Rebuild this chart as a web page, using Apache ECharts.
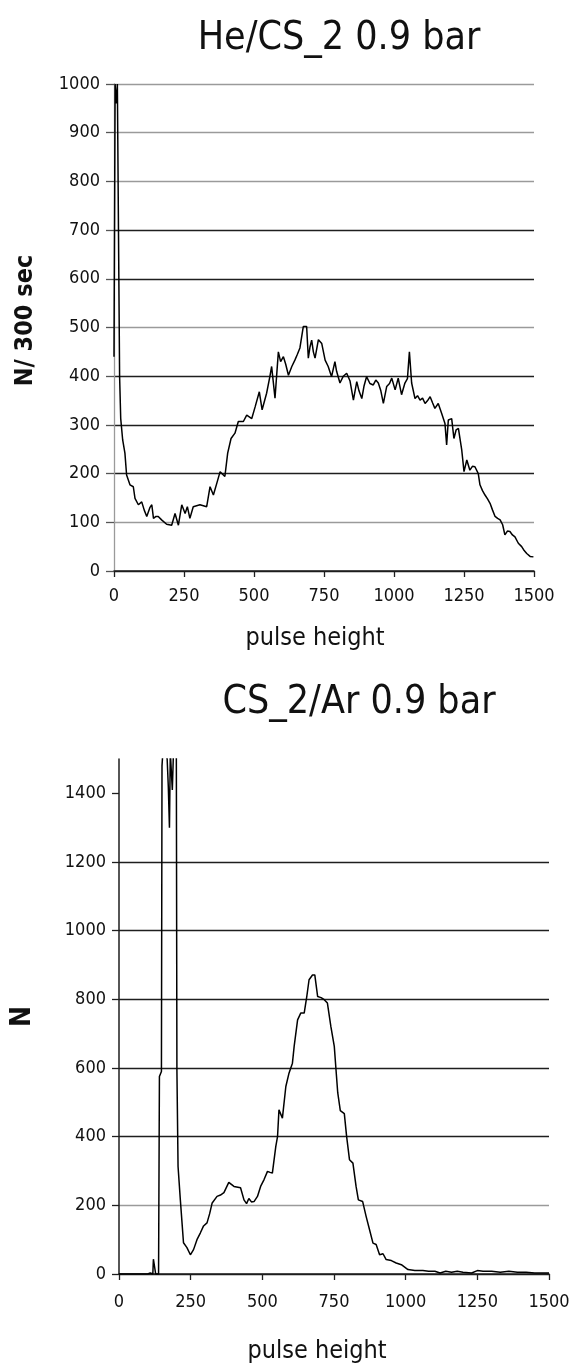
<!DOCTYPE html>
<html><head><meta charset="utf-8">
<script src="https://cdn.jsdelivr.net/npm/echarts@6/dist/echarts.min.js"></script>
<style>html,body{margin:0;padding:0;background:#fff}#c{width:575px;height:1366px}</style>
</head><body><div id="c"></div>
<script>
const FONT = "'Liberation Sans Narrow','DejaVu Sans Condensed','Liberation Sans',Arial,sans-serif";

const titleTop = 'He/CS_2 0.9 bar';
const titleBottom = 'CS_2/Ar 0.9 bar';
const xName = 'pulse height';
const yNameTop = 'N/ 300 sec';
const yNameBottom = 'N';
const yTicksBottom = [0, 200, 400, 600, 800, 1000, 1200, 1400];

// He/CS_2 spectrum (pulse height, counts per 300 s)
const heX = [0,4,8,12,16,20,24,31,39,45,57,69,75,87,99,108,117,128,135,141,150,158,170,188,206,218,230,242,254,262,271,283,307,331,343,355,367,379,396,406,418,432,444,462,474,492,504,519,529,545,557,563,575,587,595,605,613,623,635,646,655,664,676,688,694,700,706,712,718,730,742,754,765,777,789,795,807,819,831,843,855,867,875,885,893,902,914,926,935,944,953,962,974,984,992,1004,1015,1027,1039,1048,1055,1063,1075,1084,1093,1102,1111,1120,1129,1138,1146,1158,1170,1182,1188,1194,1206,1214,1222,1230,1242,1250,1260,1271,1280,1289,1301,1307,1316,1325,1334,1343,1352,1361,1370,1379,1388,1396,1405,1414,1423,1432,1438,1444,1450,1456,1465,1474,1486,1498];
const heY = [440,1000,960,1000,1000,400,313,269,242,197,177,173,149,136,142,125,112,130,136,108,112,112,105,96,94,118,94,136,118,132,108,132,136,132,173,156,180,204,194,242,272,283,307,307,320,313,337,368,331,365,400,420,355,450,430,440,425,402,420,433,445,458,502,502,437,460,474,450,437,475,467,433,420,399,430,410,386,400,406,390,351,389,370,354,380,399,385,382,392,386,370,344,379,385,396,372,396,362,386,395,450,386,354,360,351,355,344,350,358,345,334,344,324,303,259,310,313,272,290,293,248,204,228,207,215,214,200,177,165,156,148,139,125,112,108,105,95,74,82,81,74,70,66,57,55,50,42,36,30,29];

// CS_2/Ar spectrum (pulse height, counts)
const arX = [0,100,109,118,120,125,128,138,141,148,150,153,158,163,168,172,176,179,184,186,190,196,200,202,206,214,225,237,249,260,272,284,295,307,316,325,342,354,366,383,401,424,436,445,453,462,471,483,494,506,518,527,535,547,553,558,570,582,593,605,611,623,634,646,655,663,675,683,693,705,716,727,739,751,757,763,772,786,794,804,816,827,835,850,862,874,886,897,909,921,932,950,967,985,1008,1032,1060,1080,1102,1120,1140,1160,1180,1200,1230,1250,1270,1300,1330,1360,1390,1420,1450,1480,1500];
const arY = [0,0,3,0,43,43,0,0,575,590,1480,1520,1520,1520,1500,1420,1300,1520,1520,1410,1520,1520,1520,595,313,216,91,77,56,71,100,120,140,149,175,207,226,230,237,267,255,251,216,205,220,210,211,226,255,275,299,296,294,372,400,478,454,546,585,614,663,740,760,760,808,857,871,871,808,805,799,789,721,663,595,528,476,467,401,333,323,255,216,211,168,129,90,86,56,59,42,39,32,27,13,10,10,8,8,3,8,5,8,5,3,10,8,8,5,8,5,5,3,3,3];

const zip = (xs, ys) => xs.map((x, i) => [x, ys[i]]);

const DARK = '#1e1e1e', GRAY = '#9a9a9a';
const chart = echarts.init(document.getElementById('c'), null, {renderer: 'canvas'});

const plain = v => String(v);
const labelStyle = {fontFamily: FONT, fontSize: 18, color: '#111', formatter: plain};
function xAxis(gi, margin) {
  return {
    type: 'value', gridIndex: gi, min: 0, max: 1500, interval: 250,
    axisLine: {show: true, lineStyle: {color: DARK, width: 1.5}},
    axisTick: {show: true, length: 6, lineStyle: {color: DARK, width: 1.3}},
    axisLabel: Object.assign({margin: margin}, labelStyle),
    splitLine: {show: false},
    name: xName, nameLocation: 'middle', nameGap: gi === 0 ? 55 : 65,
    nameTextStyle: {fontFamily: FONT, fontSize: 25, color: '#111', padding: gi === 0 ? [0, 18, 0, 0] : [0, 34, 0, 0]}
  };
}

chart.setOption({
  animation: false,
  backgroundColor: '#fff',
  title: [
    {text: titleTop, left: 334, top: 14, textAlign: 'center',
     textStyle: {fontFamily: FONT, fontSize: 39, fontWeight: 'normal', color: '#111'}},
    {text: titleBottom, left: 354, top: 678, textAlign: 'center',
     textStyle: {fontFamily: FONT, fontSize: 39, fontWeight: 'normal', color: '#111'}}
  ],
  grid: [
    {left: 114, top: 84, width: 420, height: 487},
    {left: 119, top: 759, width: 430, height: 515}
  ],
  xAxis: [xAxis(0, 16), xAxis(1, 19)],
  yAxis: [
    {type: 'value', gridIndex: 0, min: 0, max: 1000, interval: 100,
     axisLine: {show: true, lineStyle: {color: GRAY, width: 1.3}},
     axisTick: {show: true, length: 8, lineStyle: {color: '#555', width: 1.3}},
     axisLabel: Object.assign({margin: 14}, labelStyle),
     splitLine: {show: true, lineStyle: {width: 1.4,
       color: [DARK, GRAY, DARK, DARK, DARK, GRAY, DARK, DARK, GRAY, GRAY, GRAY]}},
     name: yNameTop, nameLocation: 'middle', nameRotate: 90, nameGap: 76,
     nameTextStyle: {fontFamily: FONT, fontSize: 25, fontWeight: 'bold', color: '#111', padding: [0, 0, 0, 14]}},
    {type: 'value', gridIndex: 1, min: 0, max: 1500, interval: 200,
     axisLine: {show: true, lineStyle: {color: DARK, width: 1.5}},
     axisTick: {show: true, length: 7, customValues: yTicksBottom, lineStyle: {color: DARK, width: 1.3}},
     axisLabel: Object.assign({margin: 13, customValues: yTicksBottom}, labelStyle),
     splitLine: {show: true, showMaxLine: false, lineStyle: {width: 1.4,
       color: [DARK, GRAY, DARK, DARK, DARK, DARK, DARK, DARK, 'rgba(0,0,0,0)']}},
     name: yNameBottom, nameLocation: 'middle', nameRotate: 90, nameGap: 82,
     nameTextStyle: {fontFamily: FONT, fontSize: 28, fontWeight: 'bold', color: '#111'}}
  ],
  series: [
    {type: 'line', xAxisIndex: 0, yAxisIndex: 0, data: zip(heX, heY), symbol: 'none', clip: true,
     lineStyle: {color: '#000', width: 1.5}},
    {type: 'line', xAxisIndex: 1, yAxisIndex: 1, data: zip(arX, arY), symbol: 'none', clip: true,
     lineStyle: {color: '#000', width: 1.5}}
  ]
});
</script></body></html>
